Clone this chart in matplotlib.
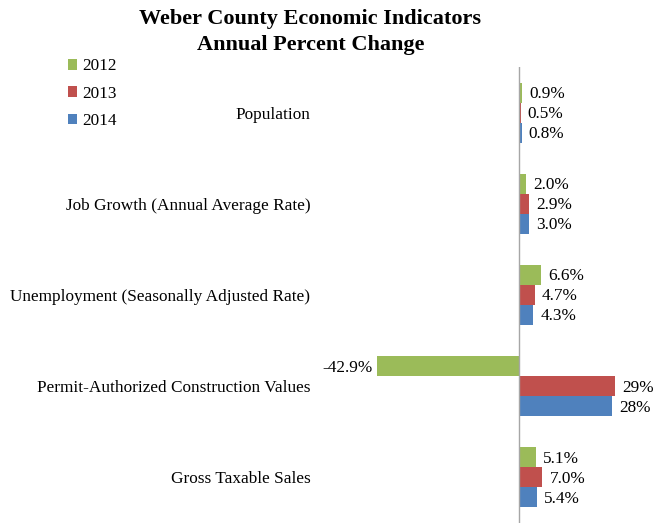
import matplotlib
matplotlib.use("Agg")
import matplotlib.pyplot as plt
from matplotlib.patches import Patch
import numpy as np

# data
categories = ['Population', 'Job Growth (Annual Average Rate)',
              'Unemployment (Seasonally Adjusted Rate)',
              'Permit-Authorized Construction Values', 'Gross Taxable Sales']
years = ['2012', '2013', '2014']
vals_2012 = [0.9, 2.0, 6.6, -42.9, 5.1]
vals_2013 = [0.5, 2.9, 4.7, 29, 7.0]
vals_2014 = [0.8, 3.0, 4.3, 28, 5.4]
colors = ['#9BBB59', '#C0504D', '#4F81BD']

plt.rcParams['font.family'] = ['Liberation Serif', 'DejaVu Serif']
FS = 12.4

fig = plt.figure(figsize=(6.66, 5.23), dpi=100)
ax = fig.add_axes([320/666, 0, (652-320)/666, 1 - 67/523])

def fmt(v):
  if v > 0 and v >= 10:
    return '{:.0f}%'.format(v)
  return '{:.1f}%'.format(v)

y = np.arange(len(categories))
h = 0.22
series = [vals_2012, vals_2013, vals_2014]
for k, (vals, c) in enumerate(zip(series, colors)):
  pos = y + (k - 1) * h
  ax.barh(pos, vals, height=h, color=c, edgecolor='none')
  for p, v in zip(pos, vals):
    if v >= 0:
      ax.annotate(fmt(v), (v, p), xytext=(5, -1), textcoords='offset points',
                  ha='left', va='center', fontsize=FS)
    else:
      ax.annotate(fmt(v), (v, p), xytext=(-3, -1), textcoords='offset points',
                  ha='right', va='center', fontsize=FS)

ax.set_xlim(-60, 40)
ax.set_ylim(4.5, -0.5)
ax.axvline(0, color='#a6a6a6', lw=1)
for s in ax.spines.values():
  s.set_visible(False)
ax.set_xticks([])
ax.set_yticks(y)
ax.set_yticklabels(categories, fontsize=FS)
ax.tick_params(axis='y', length=0, pad=7)

fig.text(0.466, 1 - 19/523, 'Weber County Economic Indicators', ha='center', va='center',
         fontsize=16, fontweight='bold')
fig.text(0.466, 1 - 45/523, 'Annual Percent Change', ha='center', va='center',
         fontsize=16, fontweight='bold')

handles = [Patch(facecolor=c, edgecolor='none') for c in colors]
fig.legend(handles, years, loc='upper left', bbox_to_anchor=(52/666, 1 - 43/523),
           frameon=False, fontsize=FS, handlelength=0.55, handleheight=0.55,
           handletextpad=0.3, labelspacing=0.65)

fig.savefig('out.png', dpi=100)
